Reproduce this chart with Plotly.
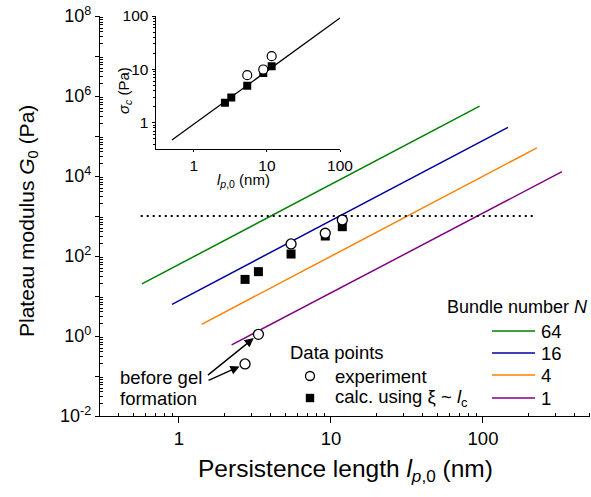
import math
import plotly.graph_objects as go

# ---------------- data ----------------
# main plot: plateau modulus vs persistence length
lp_exp = [2.72, 3.33, 5.46, 9.17, 11.87]          # nm
G_exp = [0.20, 1.10, 200, 370, 794]               # Pa (open circles)
lp_calc = [2.72, 3.33, 5.46, 9.17, 11.87]
G_calc = [26, 40.6, 112, 316, 540]                # Pa (filled squares)

bundle_N = ["64", "16", "4", "1"]
line_lp_start = [0.57, 0.90, 1.41, 2.22]
line_lp_end = [95, 146, 226, 331]
line_G_start = [20, 6.2, 1.96, 0.60]
line_G_end = [5.58e5, 1.65e5, 5.04e4, 1.28e4]

threshold_lp = [0.56, 223]
threshold_G = [1000, 1000]

# inset: critical stress vs persistence length
sig_lp_exp = [5.37, 8.9, 11.6]
sig_exp = [7.8, 9.96, 17.7]
sig_lp_calc = [2.66, 3.25, 5.37, 8.9, 11.6]
sig_calc = [2.37, 2.98, 4.92, 8.6, 11.5]
sig_fit_lp = [0.5, 100]
sig_fit = [0.475, 92]

main_x_ticks = [1, 10, 100]
main_y_exps = list(range(-2, 9))
inset_ticks = [1, 10, 100]

# ---------------- styles ----------------
line_colors = ["#008000", "#0000A0", "#FF8000", "#800080"]
FONT = "Liberation Sans, Arial, sans-serif"

W, H = 591, 497
ML, MR, MT, MB = 100, 1, 16, 81
PW, PH = W - ML - MR, H - MT - MB


def px(x):
    return (x - ML) / PW


def py(y):
    return (H - MB - y) / PH


fig = go.Figure()

# model lines
for i in range(len(bundle_N)):
    fig.add_trace(go.Scatter(
        x=[line_lp_start[i], line_lp_end[i]], y=[line_G_start[i], line_G_end[i]],
        mode="lines", line=dict(color=line_colors[i], width=1.5),
        xaxis="x", yaxis="y", hoverinfo="skip"))

# dotted threshold
fig.add_trace(go.Scatter(x=threshold_lp, y=threshold_G, mode="lines",
                         line=dict(color="black", width=1.8, dash="2px,4px"),
                         xaxis="x", yaxis="y"))

# data points
fig.add_trace(go.Scatter(x=lp_calc, y=G_calc, mode="markers",
                         marker=dict(symbol="square", size=9, color="black"),
                         xaxis="x", yaxis="y"))
fig.add_trace(go.Scatter(x=lp_exp, y=G_exp, mode="markers",
                         marker=dict(symbol="circle", size=10, color="white",
                                     line=dict(color="black", width=1.3)),
                         xaxis="x", yaxis="y"))

# inset
fig.add_trace(go.Scatter(x=sig_fit_lp, y=sig_fit, mode="lines",
                         line=dict(color="black", width=1.3),
                         xaxis="x2", yaxis="y2"))
fig.add_trace(go.Scatter(x=sig_lp_calc, y=sig_calc, mode="markers",
                         marker=dict(symbol="square", size=8, color="black"),
                         xaxis="x2", yaxis="y2"))
fig.add_trace(go.Scatter(x=sig_lp_exp, y=sig_exp, mode="markers",
                         marker=dict(symbol="circle", size=9, color="white",
                                     line=dict(color="black", width=1.2)),
                         xaxis="x2", yaxis="y2"))

minor_x = [m * 10 ** k for k in range(-1, 3) for m in range(2, 10)
           if 0.33 < m * 10 ** k < 505]
minor_y = [m * 10.0 ** k for k in range(-2, 8) for m in range(2, 10)]
minor_inset_y = [m * 10.0 ** k for k in range(-1, 2) for m in range(2, 10)
                 if m * 10.0 ** k > 0.32]

axis_common = dict(showgrid=False, zeroline=False, showline=True,
                   linecolor="black", linewidth=1.3, tickcolor="black",
                   tickwidth=1.3, type="log", automargin=False)

fig.update_layout(
    width=W, height=H,
    margin=dict(l=ML, r=MR, t=MT, b=MB, autoexpand=False),
    paper_bgcolor="white", plot_bgcolor="white",
    showlegend=False,
    font=dict(family=FONT, color="black"),
    xaxis=dict(**axis_common, range=[-0.5197, 2.704], domain=[0, 1],
               anchor="y", tickmode="array", tickvals=main_x_ticks,
               ticktext=[str(v) for v in main_x_ticks],
               ticks="outside", ticklen=6, tickfont=dict(size=18.5),
               minor=dict(tickmode="array", tickvals=minor_x, ticks="inside",
                          ticklen=3, tickcolor="black", tickwidth=1)),
    yaxis=dict(**axis_common, range=[-2, 8], domain=[0, 1], anchor="x",
               tickmode="array", tickvals=[10.0 ** k for k in main_y_exps],
               ticktext=[("10<sup>%d</sup>" % k) if k % 2 == 0 else ""
                         for k in main_y_exps],
               ticks="outside", ticklen=4, tickfont=dict(size=18),
               minor=dict(tickmode="array", tickvals=minor_y, ticks="inside",
                          ticklen=3, tickcolor="black", tickwidth=1)),
    xaxis2=dict(**axis_common, range=[-0.523, 2.0],
                domain=[px(155.7), px(340)], anchor="y2",
                tickmode="array", tickvals=inset_ticks,
                ticktext=[str(v) for v in inset_ticks],
                ticks="outside", ticklen=2, tickfont=dict(size=15.5)),
    yaxis2=dict(**axis_common, range=[-0.497, 2.0],
                domain=[py(149.3), 1.0], anchor="x2",
                tickmode="array", tickvals=inset_ticks,
                ticktext=[str(v) for v in inset_ticks],
                ticks="outside", ticklen=3, tickfont=dict(size=15.5),
                minor=dict(tickmode="array", tickvals=minor_inset_y,
                           ticks="outside", ticklen=2, tickcolor="black",
                           tickwidth=1)),
)

ann = []
# axis titles
ann.append(dict(text="Plateau modulus <i>G</i><sub>0</sub> (Pa)", textangle=-90,
                x=px(28), y=py(221), xref="paper", yref="paper",
                xanchor="center", yanchor="middle", showarrow=False,
                font=dict(size=21)))
ann.append(dict(text="Persistence length <i>l</i><sub><i>p</i>,0</sub> (nm)",
                x=px(345), y=py(470), xref="paper", yref="paper",
                xanchor="center", yanchor="middle", showarrow=False,
                font=dict(size=24.5)))
# inset titles
ann.append(dict(text="<i>σ</i><sub><i>c</i></sub> (Pa)", textangle=-90,
                x=px(124), y=py(91), xref="paper", yref="paper",
                xanchor="center", yanchor="middle", showarrow=False,
                font=dict(size=15)))
ann.append(dict(text="<i>l</i><sub><i>p</i>,0</sub> (nm)",
                x=px(243), y=py(180), xref="paper", yref="paper",
                xanchor="center", yanchor="middle", showarrow=False,
                font=dict(size=15)))

# bundle legend
ann.append(dict(text="Bundle number <i>N</i>", x=px(590), y=py(307),
                xref="paper", yref="paper", xanchor="right", yanchor="middle",
                showarrow=False, font=dict(size=18)))
leg_y = [331, 353, 375, 398]
shapes = []
for i, lab in enumerate(bundle_N):
    shapes.append(dict(type="line", xref="paper", yref="paper",
                       x0=px(492), x1=px(535), y0=py(leg_y[i]), y1=py(leg_y[i]),
                       line=dict(color=line_colors[i], width=1.5)))
    ann.append(dict(text=lab, x=px(539), y=py(leg_y[i]), xref="paper",
                    yref="paper", xanchor="left", yanchor="middle",
                    showarrow=False, font=dict(size=18.5)))

# data points legend
ann.append(dict(text="Data points", x=px(288), y=py(352), xref="paper",
                yref="paper", xanchor="left", yanchor="middle",
                showarrow=False, font=dict(size=18.5)))
ann.append(dict(text="experiment", x=px(333), y=py(376), xref="paper",
                yref="paper", xanchor="left", yanchor="middle",
                showarrow=False, font=dict(size=18.5)))
ann.append(dict(text="calc. using ξ ~ <i>l</i><sub>c</sub>", x=px(333), y=py(398),
                xref="paper", yref="paper", xanchor="left", yanchor="middle",
                showarrow=False, font=dict(size=18.5)))
r = 4.5
shapes.append(dict(type="circle", xref="paper", yref="paper",
                   x0=px(310 - r), x1=px(310 + r), y0=py(376 - r), y1=py(376 + r),
                   line=dict(color="black", width=1.3), fillcolor="white"))
s = 4.2
shapes.append(dict(type="rect", xref="paper", yref="paper",
                   x0=px(310 - s), x1=px(310 + s), y0=py(398 - s), y1=py(398 + s),
                   line=dict(color="black", width=0), fillcolor="black"))

# before gel formation
ann.append(dict(text="before gel", x=px(118), y=py(377),
                xref="paper", yref="paper", xanchor="left", yanchor="middle",
                showarrow=False, font=dict(size=18.5)))
ann.append(dict(text="formation", x=px(118), y=py(398),
                xref="paper", yref="paper", xanchor="left", yanchor="middle",
                showarrow=False, font=dict(size=18.5)))

ann.append(dict(x=math.log10(lp_exp[1]), y=math.log10(G_exp[1]), xref="x", yref="y",
                ax=-52, ay=42, showarrow=True, arrowhead=2, arrowsize=1.3,
                arrowwidth=1.4, arrowcolor="black", standoff=6, text=""))
ann.append(dict(x=math.log10(lp_exp[0]), y=math.log10(G_exp[0]), xref="x", yref="y",
                ax=-38, ay=17, showarrow=True, arrowhead=2, arrowsize=1.3,
                arrowwidth=1.4, arrowcolor="black", standoff=6, text=""))

fig.update_layout(annotations=ann, shapes=shapes)

fig.write_html("out.html", config={"displayModeBar": False},
               post_script="document.body.style.margin='0';"
                           "document.body.style.padding='0';")
